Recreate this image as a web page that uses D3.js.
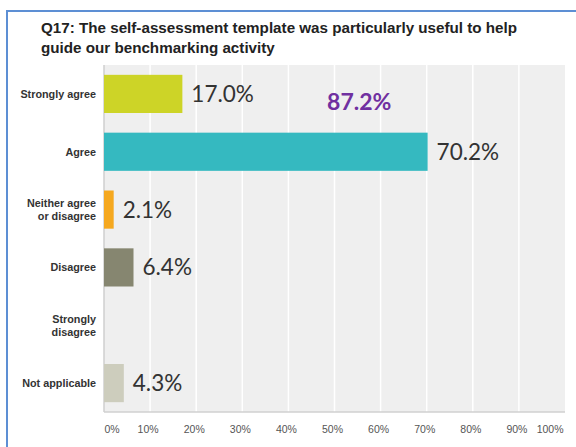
<!DOCTYPE html>
<html>
<head>
<meta charset="utf-8">
<script src="https://cdn.jsdelivr.net/npm/d3@7"></script>
<style>
  html, body { margin: 0; padding: 0; background: #fff; }
  svg { display: block; }
</style>
</head>
<body>
<svg id="chart" width="576" height="447"></svg>
<script>
// Survey responses for Q17
const categories = [
  ["Strongly agree"],
  ["Agree"],
  ["Neither agree", "or disagree"],
  ["Disagree"],
  ["Strongly", "disagree"],
  ["Not applicable"]
];
const values = [17.0, 70.2, 2.1, 6.4, 0, 4.3];
const barColors = ["#cdd427", "#35b9c0", "#f5a81f", "#868670", "#c8c8b4", "#cdcdbd"];
const tickValues = [0, 10, 20, 30, 40, 50, 60, 70, 80, 90, 100];
const titleLines = [
  "Q17: The self-assessment template was particularly useful to help",
  "guide our benchmarking activity"
];
const combinedLabel = "87.2%";   // Strongly agree + Agree

const svg = d3.select("#chart");
const W = 576, H = 447;

// Frame
svg.append("path")
  .attr("d", `M7,${H} L7,11 L${W},11`)
  .attr("fill", "none")
  .attr("stroke", "#5d8fd4")
  .attr("stroke-width", 2);

// Title
svg.append("text")
  .attr("font-family", "Liberation Sans, Arial, sans-serif")
  .attr("font-weight", "bold")
  .attr("font-size", 15.2)
  .attr("fill", "#222")
  .selectAll("tspan")
  .data(titleLines)
  .join("tspan")
  .attr("x", 41)
  .attr("y", (d, i) => 33 + i * 20)
  .text(d => d);

const plot = { left: 104, right: 565, top: 65, bottom: 412 };

const x = d3.scaleLinear().domain([0, 100]).range([plot.left, plot.right]);
const y = d3.scaleBand()
  .domain(d3.range(categories.length))
  .range([plot.top, plot.bottom])
  .paddingInner(0.34)
  .paddingOuter(0.17);

// Plot background
svg.append("rect")
  .attr("x", plot.left).attr("y", plot.top)
  .attr("width", plot.right - plot.left)
  .attr("height", plot.bottom - plot.top)
  .attr("fill", "#efefef");

// Vertical gridlines
svg.append("g")
  .selectAll("line")
  .data(tickValues.slice(1, -1))
  .join("line")
  .attr("x1", d => x(d)).attr("x2", d => x(d))
  .attr("y1", plot.top).attr("y2", plot.bottom)
  .attr("stroke", "#fff")
  .attr("stroke-width", 1.5);

// Axis lines
svg.append("line")
  .attr("x1", plot.left).attr("x2", plot.left)
  .attr("y1", plot.top).attr("y2", plot.bottom)
  .attr("stroke", "#cfcfcf").attr("stroke-width", 1.5);
svg.append("line")
  .attr("x1", plot.left).attr("x2", plot.right)
  .attr("y1", plot.bottom).attr("y2", plot.bottom)
  .attr("stroke", "#d0d0d0").attr("stroke-width", 1.5);

// Bars
svg.append("g")
  .selectAll("rect")
  .data(values)
  .join("rect")
  .attr("x", x(0))
  .attr("y", (d, i) => y(i))
  .attr("width", d => x(d) - x(0))
  .attr("height", y.bandwidth())
  .attr("fill", (d, i) => barColors[i])
  .style("display", d => d > 0 ? null : "none");

// Value labels
svg.append("g")
  .selectAll("text")
  .data(values.map((v, i) => ({ v, i })).filter(d => d.v > 0))
  .join("text")
  .attr("x", d => x(d.v) + 9)
  .attr("y", d => y(d.i) + y.bandwidth() / 2 + 8)
  .attr("font-family", "Lato, 'Open Sans', sans-serif")
  .attr("font-size", 22.5)
  .attr("fill", "#333")
  .text(d => d.v.toFixed(1) + "%");

// Combined agreement label
svg.append("text")
  .attr("x", x(48.4))
  .attr("y", y(0) + y.bandwidth() / 2 + 16)
  .attr("font-family", "Lato, 'Open Sans', sans-serif")
  .attr("font-weight", "bold")
  .attr("font-size", 23)
  .attr("fill", "#7030a0")
  .text(combinedLabel);

// Category labels
svg.append("g")
  .selectAll("text")
  .data(categories)
  .join("text")
  .attr("text-anchor", "end")
  .attr("font-family", "Liberation Sans, Arial, sans-serif")
  .attr("font-weight", "bold")
  .attr("font-size", 10.8)
  .attr("fill", "#333")
  .each(function (lines, i) {
    const cy = y(i) + y.bandwidth() / 2;
    const lh = 12.5;
    d3.select(this).selectAll("tspan")
      .data(lines)
      .join("tspan")
      .attr("x", 96)
      .attr("y", (d, k) => cy + 4 + (k - (lines.length - 1) / 2) * lh)
      .text(d => d);
  });

// X axis tick labels
const axis = d3.axisBottom(x)
  .tickValues(tickValues)
  .tickFormat(d => d + "%")
  .tickSize(0)
  .tickPadding(14);
const gx = svg.append("g")
  .attr("transform", `translate(0,${plot.bottom})`)
  .call(axis);
gx.select(".domain").remove();
gx.selectAll("text")
  .attr("font-family", "Liberation Sans, Arial, sans-serif")
  .attr("font-size", 10.5)
  .attr("fill", "#555")
  .attr("text-anchor", d => d === 0 ? "start" : (d === 100 ? "end" : "middle"))
  .attr("dx", d => d === 0 ? 0 : (d === 100 ? -2 : -2.5));
</script>
</body>
</html>
